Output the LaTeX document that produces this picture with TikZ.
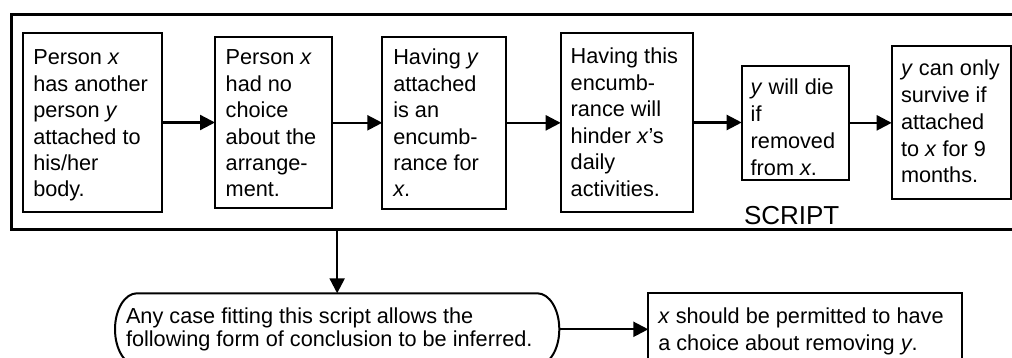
\documentclass[tikz,border=0pt]{standalone}
\usepackage{fontspec}
\setmainfont{Liberation Sans}
\usetikzlibrary{arrows.meta}
\newcommand\boxtext[2]{\parbox[t]{500pt}{\fontsize{21.7}{#1}\selectfont\raggedright #2}}
\tikzset{
  box/.style={draw, line width=2pt, inner sep=0pt, outer sep=0pt, anchor=north west, rectangle},
  frame/.style={draw, line width=3pt, inner sep=0pt, outer sep=0pt, anchor=north west, rectangle},
  txt/.style={anchor=base west, inner sep=0pt, outer sep=0pt},
  arr/.style={line width=2.3pt, -{Triangle[length=15pt,width=15pt]}},
}
\begin{document}
\begin{tikzpicture}[x=1pt,y=-1pt]
\useasboundingbox (0,0) rectangle (1012,358);
\clip (0,0) rectangle (1012,358);
\fill[white] (0,0) rectangle (1012,358);
% outer script frame
\node[frame, minimum width=1040pt, minimum height=215pt] (frame) at (11,15) {};
\node[anchor=base, inner sep=0pt, font=\fontsize{26}{30}\selectfont] (script) at (791.7,225) {SCRIPT};
% script boxes
\node[box, minimum width=139.3pt, minimum height=178.4pt] (b1) at (22.7,33.3) {};
\node[box, minimum width=116.7pt, minimum height=171pt] (b2) at (215,37.3) {};
\node[box, minimum width=123.4pt, minimum height=172.3pt] (b3) at (382.3,36.7) {};
\node[box, minimum width=132pt, minimum height=178.4pt] (b4) at (560.7,33.3) {};
\node[box, minimum width=107.6pt, minimum height=114.3pt] (b5) at (741.7,65.7) {};
\node[box, minimum width=119.6pt, minimum height=153pt] (b6) at (891.7,46) {};
\node[txt] (t1) at (33.3,65) {\boxtext{26.4pt}{Person \textit{x}\\has another\\person \textit{y}\\attached to\\his/her\\body.}};
\node[txt] (t2) at (225.7,65) {\boxtext{26.4pt}{Person \textit{x}\\had no\\choice\\about the\\arrange-\\ment.}};
\node[txt] (t3) at (393.3,65) {\boxtext{26.4pt}{Having \textit{y}\\attached\\is an\\encumb-\\rance for\\\textit{x}.}};
\node[txt] (t4) at (570.7,63.5) {\boxtext{26.6pt}{Having this\\encumb-\\rance will\\hinder \textit{x}’s\\daily\\activities.}};
\node[txt] (t5) at (750.7,95) {\boxtext{26.7pt}{\textit{y} will die\\if\\removed\\from \textit{x}.}};
\node[txt] (t6) at (901,76) {\boxtext{26.7pt}{\textit{y} can only\\survive if\\attached\\to \textit{x} for 9\\months.}};
\draw[arr] (b1.east) -- (b1.east -| b2.west);
\draw[arr] (b2.east) -- (b2.east -| b3.west);
\draw[arr] (b3.east) -- (b3.east -| b4.west);
\draw[arr] (b4.east) -- (b4.east -| b5.west);
\draw[arr] (b5.east) -- (b5.east -| b6.west);
% conclusion part
\node[rectangle, inner sep=0pt, outer sep=0pt, minimum width=444.3pt, minimum height=72pt, anchor=north west] (r) at (115,293.3) {};
\draw[line width=2pt] ([xshift=22pt]r.north west) -- ([xshift=-22pt]r.north east)
  arc[start angle=90, end angle=-90, x radius=22pt, y radius=36pt]
  -- ([xshift=22pt]r.south west)
  arc[start angle=270, end angle=90, x radius=22pt, y radius=36pt] -- cycle;
\node[txt] (rt) at (126,323.3) {\boxtext{23.4pt}{Any case fitting this script allows the\\following form of conclusion to be inferred.}};
\node[box, minimum width=313.4pt, minimum height=80pt] (c) at (648.3,293.3) {};
\node[txt] (ct) at (658.3,323.5) {\boxtext{26.5pt}{\textit{x} should be permitted to have\\a choice about removing \textit{y}.}};
\draw[arr] (frame.south -| r.north) -- (r.north);
\draw[arr] (r.east) -- (r.east -| c.west);
\end{tikzpicture}
\end{document}
